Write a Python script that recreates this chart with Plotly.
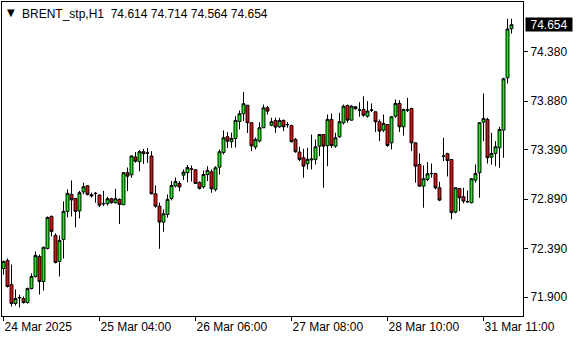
import plotly.graph_objects as go

# Hourly bars (index 0..127), BRENT_stp H1
open_ = [72.190,72.271,72.028,71.836,71.892,71.887,71.846,71.988,72.109,72.311,
         72.059,72.393,72.716,72.524,72.261,72.484,72.767,72.939,72.898,72.772,
         72.964,73.026,72.936,72.947,72.932,72.843,72.845,72.895,72.855,72.888,
         72.834,73.158,73.137,73.317,73.269,73.370,73.355,73.327,72.945,72.820,
         72.659,72.736,72.898,73.024,73.049,73.133,73.158,73.191,73.188,73.060,
         73.016,73.140,73.168,72.989,73.214,73.363,73.521,73.471,73.504,73.676,
         73.754,73.840,73.663,73.418,73.479,73.612,73.814,73.638,73.686,73.622,
         73.686,73.643,73.635,73.494,73.366,73.309,73.249,73.287,73.292,73.426,
         73.544,73.433,73.696,73.426,73.521,73.663,73.837,73.689,73.824,73.789,
         73.797,73.729,73.789,73.774,73.673,73.588,73.645,73.460,73.729,73.858,
         73.622,73.789,73.807,73.460,73.241,73.022,73.090,73.148,73.150,73.006,
         73.324,73.350,73.292,72.760,72.999,72.915,72.863,72.855,73.083,73.158,
         73.669,73.696,73.315,73.353,73.410,73.588,74.117,74.614]
high_ = [72.271,72.291,72.230,71.978,71.927,71.907,71.998,72.140,72.362,72.332,
         72.413,72.716,72.726,72.545,72.524,72.868,72.989,73.080,72.903,72.974,
         73.057,73.029,72.956,72.962,72.939,72.974,72.915,72.905,72.996,72.898,
         73.166,73.211,73.332,73.366,73.386,73.398,73.408,73.376,73.029,72.855,
         72.787,72.939,73.073,73.110,73.073,73.191,73.236,73.231,73.191,73.070,
         73.181,73.224,73.191,73.224,73.393,73.585,73.568,73.562,73.729,73.787,
         73.974,73.842,73.666,73.514,73.669,73.847,73.832,73.713,73.713,73.713,
         73.696,73.669,73.645,73.509,73.420,73.400,73.410,73.544,73.494,73.549,
         73.549,73.746,73.757,73.562,73.764,73.847,73.847,73.840,73.832,73.871,
         73.931,73.881,73.858,73.777,73.696,73.746,73.650,73.729,73.898,73.891,
         73.804,73.915,73.814,73.463,73.353,73.231,73.265,73.251,73.156,73.066,
         73.511,73.360,73.297,73.009,73.004,73.006,72.979,73.105,73.241,73.669,
         73.958,73.713,73.562,73.477,73.622,74.117,74.714,74.714]
low_ = [72.129,71.998,71.806,71.816,71.796,71.836,71.836,71.978,72.099,71.927,
        71.968,72.382,72.514,72.241,72.109,72.291,72.706,72.716,72.605,72.696,
        72.939,72.929,72.905,72.855,72.810,72.820,72.827,72.845,72.845,72.640,
        72.832,72.972,73.107,73.259,73.171,73.247,73.257,72.939,72.804,72.389,
        72.562,72.703,72.878,73.009,72.972,73.083,73.060,73.070,73.044,72.989,
        72.999,73.073,72.955,72.969,73.140,73.342,73.408,73.410,73.413,73.595,
        73.679,73.559,73.376,73.393,73.464,73.610,73.746,73.628,73.561,73.612,
        73.578,73.612,73.464,73.360,73.275,73.107,73.191,73.191,73.241,73.325,
        73.006,73.224,73.410,73.410,73.511,73.645,73.663,73.686,73.797,73.723,
        73.723,73.713,73.770,73.568,73.477,73.568,73.420,73.393,73.713,73.568,
        73.534,73.770,73.376,73.057,73.016,72.804,73.073,73.107,72.989,72.871,
        73.275,73.120,72.686,72.747,72.770,72.848,72.855,72.848,73.057,72.905,
        73.477,73.251,73.241,73.224,73.208,73.309,74.060,74.564]
close_ = [72.261,72.008,71.836,71.887,71.897,71.846,71.988,72.109,72.321,72.059,
          72.403,72.706,72.565,72.251,72.474,72.767,72.949,72.883,72.767,72.956,
          73.016,72.939,72.924,72.949,72.830,72.846,72.895,72.855,72.895,72.837,
          73.158,73.123,73.327,73.275,73.370,73.350,73.357,72.945,72.820,72.659,
          72.743,72.888,73.029,73.070,73.014,73.164,73.211,73.196,73.049,72.999,
          73.140,73.181,72.996,73.208,73.370,73.511,73.477,73.504,73.686,73.754,
          73.855,73.663,73.429,73.494,73.612,73.814,73.780,73.673,73.619,73.686,
          73.622,73.645,73.471,73.370,73.292,73.224,73.292,73.297,73.420,73.544,
          73.426,73.696,73.433,73.511,73.673,73.830,73.689,73.830,73.804,73.792,
          73.739,73.780,73.792,73.673,73.578,73.655,73.433,73.723,73.858,73.622,
          73.797,73.792,73.460,73.224,73.022,73.097,73.147,73.150,73.006,72.881,
          73.326,73.282,72.754,73.006,72.905,72.871,72.866,73.097,73.150,73.663,
          73.706,73.309,73.353,73.420,73.595,74.107,74.610,74.654]

tick_idx = [0, 24, 48, 72, 96, 120]
tick_text = ["24 Mar 2025", "25 Mar 04:00", "26 Mar 06:00",
             "27 Mar 08:00", "28 Mar 10:00", "31 Mar 11:00"]
price_ticks = [74.380, 73.880, 73.390, 72.890, 72.390, 71.900]
symbol = "BRENT_stp,H1"
last_ohlc = [74.614, 74.714, 74.564, 74.654]

x = list(range(len(open_)))
FONT = "Liberation Sans, Arial, sans-serif"

fig = go.Figure(go.Candlestick(
    x=x, open=open_, high=high_, low=low_, close=close_,
    increasing=dict(fillcolor="#00FF00", line=dict(color="black", width=1)),
    decreasing=dict(fillcolor="#FF0000", line=dict(color="black", width=1)),
    whiskerwidth=0, hoverinfo="skip",
))

fig.update_layout(
    width=580, height=340,
    margin=dict(l=2, r=57, t=2, b=24),
    paper_bgcolor="white", plot_bgcolor="white",
    showlegend=False, boxgap=0.28, boxgroupgap=0,
    font=dict(family=FONT, size=12, color="black"),
    xaxis=dict(
        range=[-0.375, 129.875], rangeslider=dict(visible=False),
        tickmode="array", tickvals=tick_idx, ticktext=tick_text,
        ticks="outside", ticklen=4, tickcolor="black", tickwidth=1,
        ticklabelposition="outside right",
        showgrid=False, zeroline=False,
        showline=True, linecolor="black", linewidth=1, mirror=True,
        tickfont=dict(family=FONT, size=12, color="black"),
    ),
    yaxis=dict(
        range=[71.710, 74.883], side="right",
        tickmode="array", tickvals=price_ticks,
        ticktext=[f"{v:.3f}" for v in price_ticks],
        ticks="outside", ticklen=4, tickcolor="black", tickwidth=1,
        showgrid=False, zeroline=False,
        showline=True, linecolor="black", linewidth=1, mirror=True,
        tickfont=dict(family=FONT, size=12, color="black"),
    ),
)

fig.add_annotation(
    xref="paper", yref="paper", x=0, y=1, xanchor="left", yanchor="top",
    xshift=3, yshift=-3, text="▼", showarrow=False,
    font=dict(family="DejaVu Sans", size=10, color="black"),
)
fig.add_annotation(
    xref="paper", yref="paper", x=0, y=1, xanchor="left", yanchor="top",
    xshift=18, yshift=-3,
    text=symbol + "\u00a0\u00a0" + " ".join(f"{v:.3f}" for v in last_ohlc),
    showarrow=False, font=dict(family=FONT, size=12, color="black"),
)
fig.add_annotation(
    xref="paper", yref="y", x=1, y=close_[-1], xanchor="left", yanchor="middle",
    xshift=2, text=f"{close_[-1]:.3f}", showarrow=False,
    bgcolor="black", width=46, height=13, borderpad=0,
    font=dict(family=FONT, size=12, color="white"),
)

fig.write_html("out.html")
